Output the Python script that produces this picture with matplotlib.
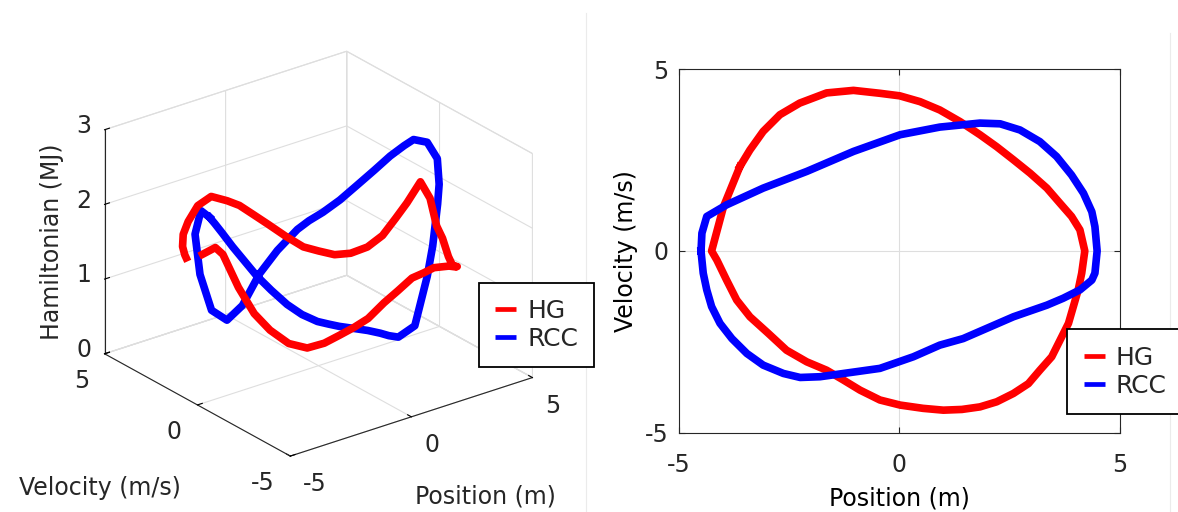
import numpy as np
import matplotlib
matplotlib.use("Agg")
import matplotlib.pyplot as plt
from matplotlib.lines import Line2D
from mpl_toolkits.mplot3d import proj3d

# Limit cycle of the HG controller: position (m), velocity (m/s), Hamiltonian (MJ)
hg_position = [-3.62, -3.39, -3.09, -2.71, -2.26, -1.65, -1.04, -0.44, 0.01, 0.47,
               0.92, 1.38, 1.83, 2.21, 2.59, 2.97, 3.35, 3.65, 3.91, 4.10,
               4.21, 4.14, 4.06, 3.95, 3.84, 3.65, 3.46, 3.19, 2.93, 2.59,
               2.21, 1.83, 1.42, 1.00, 0.54, 0.02, -0.44, -0.89, -1.27, -1.65,
               -2.10, -2.56, -2.97, -3.39, -3.69, -3.92, -4.14, -4.26, -3.99]
hg_velocity = [2.32, 2.78, 3.29, 3.75, 4.07, 4.35, 4.42, 4.34, 4.27, 4.11,
               3.88, 3.56, 3.20, 2.87, 2.51, 2.14, 1.73, 1.31, 0.95, 0.58,
               0.00, -0.61, -1.07, -1.53, -1.99, -2.45, -2.91, -3.28, -3.65, -3.92,
               -4.15, -4.29, -4.36, -4.38, -4.33, -4.24, -4.10, -3.83, -3.55, -3.28,
               -3.05, -2.73, -2.27, -1.81, -1.35, -0.80, -0.25, 0.00, 1.22]
hg_energy = [1.46, 1.46, 1.47, 1.53, 1.61, 1.72, 1.77, 1.66, 1.56, 1.41,
             1.26, 1.10, 0.96, 0.91, 0.87, 0.90, 1.00, 1.18, 1.43, 1.67,
             2.02, 1.89, 1.59, 1.50, 1.33, 1.30, 1.36, 1.44, 1.52, 1.59,
             1.67, 1.72, 1.76, 1.74, 1.71, 1.58, 1.45, 1.25, 1.13, 1.03,
             0.94, 0.88, 0.92, 1.08, 1.27, 1.57, 1.96, 2.03, 1.72]

# Limit cycle of the RCC controller
rcc_position = [-4.50, -4.48, -4.37, -3.92, -3.09, -2.10, -1.04, 0.02, 0.92, 1.83,
                2.29, 2.74, 3.19, 3.57, 3.91, 4.18, 4.37, 4.44, 4.49, 4.44,
                4.37, 4.10, 3.72, 3.35, 2.59, 1.45, 0.92, 0.32, -0.44, -0.97,
                -1.80, -2.25, -2.63, -3.09, -3.46, -3.80, -4.07, -4.26, -4.37, -4.45,
                -4.48]
rcc_velocity = [0.00, 0.49, 0.95, 1.27, 1.73, 2.19, 2.74, 3.20, 3.41, 3.52,
                3.50, 3.33, 3.01, 2.60, 2.09, 1.59, 1.08, 0.67, 0.00, -0.61,
                -0.80, -1.07, -1.30, -1.49, -1.81, -2.41, -2.59, -2.91, -3.23, -3.32,
                -3.46, -3.48, -3.37, -3.14, -2.82, -2.41, -1.99, -1.53, -1.07, -0.61,
                -0.25]
rcc_energy = [2.46, 2.48, 2.09, 1.46, 0.83, 0.53, 0.54, 0.79, 0.98, 1.15,
              1.22, 1.31, 1.47, 1.68, 1.92, 2.15, 2.34, 2.47, 2.52, 2.39,
              2.08, 1.88, 1.39, 1.05, 0.51, 0.56, 0.66, 0.80, 0.96, 1.05,
              1.19, 1.27, 1.33, 1.44, 1.57, 1.74, 1.90, 2.07, 2.20, 2.33,
              2.41]

series_labels = ["HG", "RCC"]
series_colors = ["#ff0000", "#0000ff"]
pos_ticks = [-5, 0, 5]
vel_ticks = [-5, 0, 5]
energy_ticks = [0, 1, 2, 3]

W, H = 1178, 512
TEXT = "#262626"
GRID = "#dedede"
FS = 17
LW = 5.5

plt.rcParams["font.family"] = ["DejaVu Sans"]
plt.rcParams["font.size"] = FS
plt.rcParams["text.color"] = TEXT
plt.rcParams["axes.unicode_minus"] = False
plt.rcParams["grid.color"] = GRID
plt.rcParams["grid.linewidth"] = 0.8


def closed(values):
    return np.r_[values, values[:1]]


def place_box(fig, ax, corners, targets):
    """Scale and move a square 3D axes so the given box corners land on target pixels."""
    fig.canvas.draw()
    xs, ys, zs = np.array(corners, dtype=float).T
    px, py, _ = proj3d.proj_transform(xs, ys, zs, ax.get_proj())
    disp = ax.transData.transform(np.column_stack([px, py]))
    bbox = ax.get_position(original=True)
    rel = disp - np.array([bbox.x0 * W, bbox.y0 * H])
    tgt = np.array([(x, H - y) for x, y in targets])
    rc, tc = rel - rel.mean(0), tgt - tgt.mean(0)
    k = (rc * tc).sum() / (rc ** 2).sum()
    x0, y0 = tgt.mean(0) - k * rel.mean(0)
    side = bbox.width * W * k
    ax.set_position([x0 / W, y0 / H, side / W, side / H])


def tick_text(ax, points, values, ha, dx, dy):
    """Write tick values next to their 3D positions, shifted by (dx, dy) pixels (dy downwards)."""
    xs, ys, zs = np.array(points, dtype=float).T
    px, py, _ = proj3d.proj_transform(xs, ys, zs, ax.get_proj())
    for x, y, value in zip(px, py, values):
        ax.annotate(f"{value:g}", (x, y), xytext=(dx, -dy), textcoords="offset pixels",
                    ha=ha, va="center", fontsize=FS, color=TEXT, annotation_clip=False)


def add_legend(fig, x, y):
    handles = [Line2D([], [], color=c, linewidth=3.4, solid_capstyle="butt") for c in series_colors]
    leg = fig.legend(handles, series_labels, loc="upper left",
                     bbox_to_anchor=(x / W, 1 - y / H), bbox_transform=fig.transFigure,
                     borderaxespad=0, fontsize=18, frameon=True, fancybox=False,
                     framealpha=1, edgecolor="black", borderpad=0.65,
                     handlelength=0.84, handletextpad=0.44, labelspacing=0.17)
    leg.get_frame().set_linewidth(1.3)
    return leg


fig = plt.figure(figsize=(W / 100, H / 100), dpi=100)
fig.patch.set_facecolor("white")

# panel edges of the two exported figures
fig.add_artist(Line2D([586 / W, 586 / W], [0, 1 - 13 / H], color="#ebebeb", linewidth=0.8))
fig.add_artist(Line2D([1170 / W, 1170 / W], [0, 1 - 33 / H], color="#ebebeb", linewidth=0.8))

# ---- 3D view: phase portrait lifted by the Hamiltonian
ax3 = fig.add_axes([0.02, 0.02, 400 / W, 400 / H], projection="3d")
ax3.set_proj_type("ortho")
ax3.view_init(elev=25, azim=-127.5)
ax3.set_box_aspect((1, 1, 0.81))
ax3.patch.set_facecolor("none")

ax3.plot(closed(rcc_position), closed(rcc_velocity), closed(rcc_energy),
         color=series_colors[1], linewidth=LW, solid_joinstyle="round")
ax3.plot(hg_position, hg_velocity, hg_energy,
         color=series_colors[0], linewidth=LW, solid_joinstyle="round", solid_capstyle="butt")

ax3.set_xlim(-5, 5)
ax3.set_ylim(-5, 5)
ax3.set_zlim(0, 3)
ax3.set_xticks(pos_ticks)
ax3.set_yticks(vel_ticks)
ax3.set_zticks(energy_ticks)
ax3.set_xticklabels([])
ax3.set_yticklabels([])
ax3.set_zticklabels([])
for axis in (ax3.xaxis, ax3.yaxis, ax3.zaxis):
    axis.pane.set_alpha(None)
    axis.pane.set_facecolor((1, 1, 1, 0))
    axis.pane.set_edgecolor(GRID)
    axis.pane.set_linewidth(0.8)
    axis.line.set_color(TEXT)
    axis.line.set_linewidth(0.8)
    axis._axinfo["grid"].update(color=GRID, linewidth=0.8)
    axis._axinfo["tick"].update(inward_factor=0.0, outward_factor=0.25)

place_box(fig, ax3,
          [(-5, -5, 0), (-5, 5, 3), (5, -5, 0), (5, 5, 3), (-5, 5, 0), (5, -5, 3)],
          [(291.7, 456.7), (106, 129.3), (533.6, 379.3), (346, 50.7), (103.6, 352.7), (530, 153.3)])

tick_text(ax3, [(-5, v, 0) for v in vel_ticks], vel_ticks, "right", -15.5, 27)
tick_text(ax3, [(p, -5, 0) for p in pos_ticks], pos_ticks, "left", 13, 28.4)
tick_text(ax3, [(-5, 5, z) for z in energy_ticks], energy_ticks, "right", -13, -3.6)

fig.text(52 / W, 1 - 242 / H, "Hamiltonian (MJ)", rotation=90, ha="center", va="center", fontsize=FS)
fig.text(100 / W, 1 - 487.5 / H, "Velocity (m/s)", ha="center", va="center", fontsize=FS)
fig.text(485.6 / W, 1 - 496.7 / H, "Position (m)", ha="center", va="center", fontsize=FS)
add_legend(fig, 479, 282.7)

# ---- 2D phase portrait
ax2 = fig.add_axes([679 / W, 1 - 432.7 / H, 440.6 / W, 363.4 / H])
ax2.plot(closed(hg_position), closed(hg_velocity), color=series_colors[0],
         linewidth=LW, solid_joinstyle="round")
ax2.plot(closed(rcc_position), closed(rcc_velocity), color=series_colors[1],
         linewidth=LW, solid_joinstyle="round")
ax2.set_xlim(-5, 5)
ax2.set_ylim(-5, 5)
ax2.set_xticks(pos_ticks)
ax2.set_yticks(vel_ticks)
ax2.grid(True, color=GRID, linewidth=0.8)
ax2.set_axisbelow(True)
ax2.tick_params(direction="in", length=4.5, width=0.8, top=True, right=True,
                labelsize=FS, colors=TEXT)
ax2.tick_params(axis="x", pad=14.4)
ax2.tick_params(axis="y", pad=7.5)
for spine in ax2.spines.values():
    spine.set_color(TEXT)
    spine.set_linewidth(0.8)
ax2.set_xlabel("Position (m)", fontsize=FS)
ax2.set_ylabel("Velocity (m/s)", fontsize=FS)
ax2.xaxis.set_label_coords(0.5, -0.1475)
ax2.yaxis.set_label_coords(-0.093, 0.5)
add_legend(fig, 1067.3, 329.3)

fig.savefig("out.png", dpi=100, facecolor="white")
